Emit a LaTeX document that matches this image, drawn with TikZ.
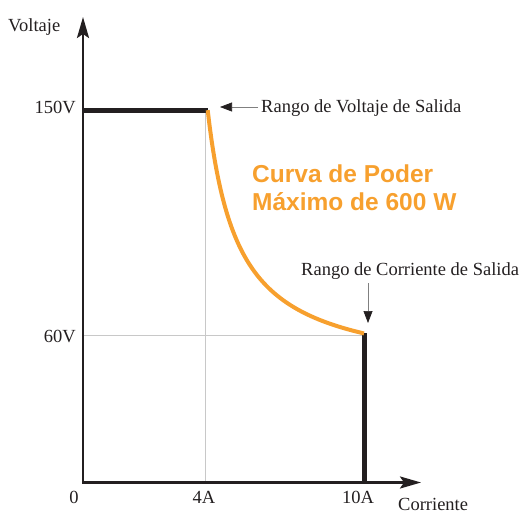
\documentclass[tikz,border=0pt]{standalone}
\usepackage{fontspec}
\setmainfont{Liberation Serif}
\setsansfont{Liberation Sans}
\usetikzlibrary{arrows.meta}
\definecolor{pwr}{RGB}{247,160,46}
\definecolor{gridc}{RGB}{200,200,200}
\definecolor{ink}{RGB}{35,31,32}
\begin{document}
\begin{tikzpicture}[x=1pt,y=-1pt,
  lbl/.style={font=\fontsize{18.5}{20}\selectfont, text=ink, inner sep=0pt},
  ttl/.style={font=\sffamily\bfseries\fontsize{24.5}{28}\selectfont, text=pwr, inner sep=0pt, anchor=base west},
  axisline/.style={line width=2.5pt, draw=ink, line join=miter,
     {Stealth[length=21pt,width=12pt,inset=4pt]}-{Stealth[length=21pt,width=12pt,inset=4pt]}},
  gridline/.style={draw=gridc, line width=0.7pt},
  limit/.style={draw=ink, line width=5pt},
  curve/.style={draw=pwr, line width=4pt},
  note/.style={draw=gray, line width=0.7pt, -{Triangle[length=12pt,width=9pt,color=ink]}}
]
\useasboundingbox (0,0) rectangle (525,514);
% key coordinates
\coordinate (O) at (83,482.5);
\coordinate (ytop) at (83,17);
\coordinate (xend) at (421,482.5);
\coordinate (g4top) at (205,110);
\coordinate (g4bot) at (205,482);
\coordinate (g60l) at (83,335);
\coordinate (g60r) at (364,335);
\coordinate (vl) at (82,110);
\coordinate (vr) at (208,110);
\coordinate (cb) at (364,333);
\coordinate (ct) at (364,482);
% grid
\draw[gridline] (g4top) -- (g4bot);
\draw[gridline] (g60l) -- (g60r);
% limits
\draw[limit] (vl) -- (vr);
\draw[limit] (cb) -- (ct);
% power curve
\draw[curve] plot[domain=207.7:364, samples=80, smooth] (\x, {377-8138/(\x-177.2)});
% axes
\draw[axisline] (ytop) -- (O) -- (xend);
% labels
\node[lbl, anchor=base west] (ylab) at (8,31) {Voltaje};
\node[lbl, anchor=base east] (v150) at (76,113) {150V};
\node[lbl, anchor=base east] (v60) at (76,342) {60V};
\node[lbl, anchor=base] (i0) at (74,503) {0};
\node[lbl, anchor=base] (i4) at (204,503) {4A};
\node[lbl, anchor=base] (i10) at (358,503) {10A};
\node[lbl, anchor=base west] (xlab) at (398,510) {Corriente};
\node[lbl, anchor=base west] (nv) at (261,112) {Rango de Voltaje de Salida};
\node[lbl, anchor=base west] (nc) at (301,275) {Rango de Corriente de Salida};
\node[ttl] (t1) at (252,182) {Curva de Poder};
\node[ttl] (t2) at (252,210) {Máximo de 600 W};
% annotation arrows
\coordinate (nvtip) at (220,107);
\coordinate (nctip) at (368,323);
\draw[note] (nv.west |- nvtip) ++(-3,0) coordinate (nvs) -- (nvtip);
\draw[note] (nctip |- nc.south) ++(0,4) -- (nctip);
\end{tikzpicture}
\end{document}
